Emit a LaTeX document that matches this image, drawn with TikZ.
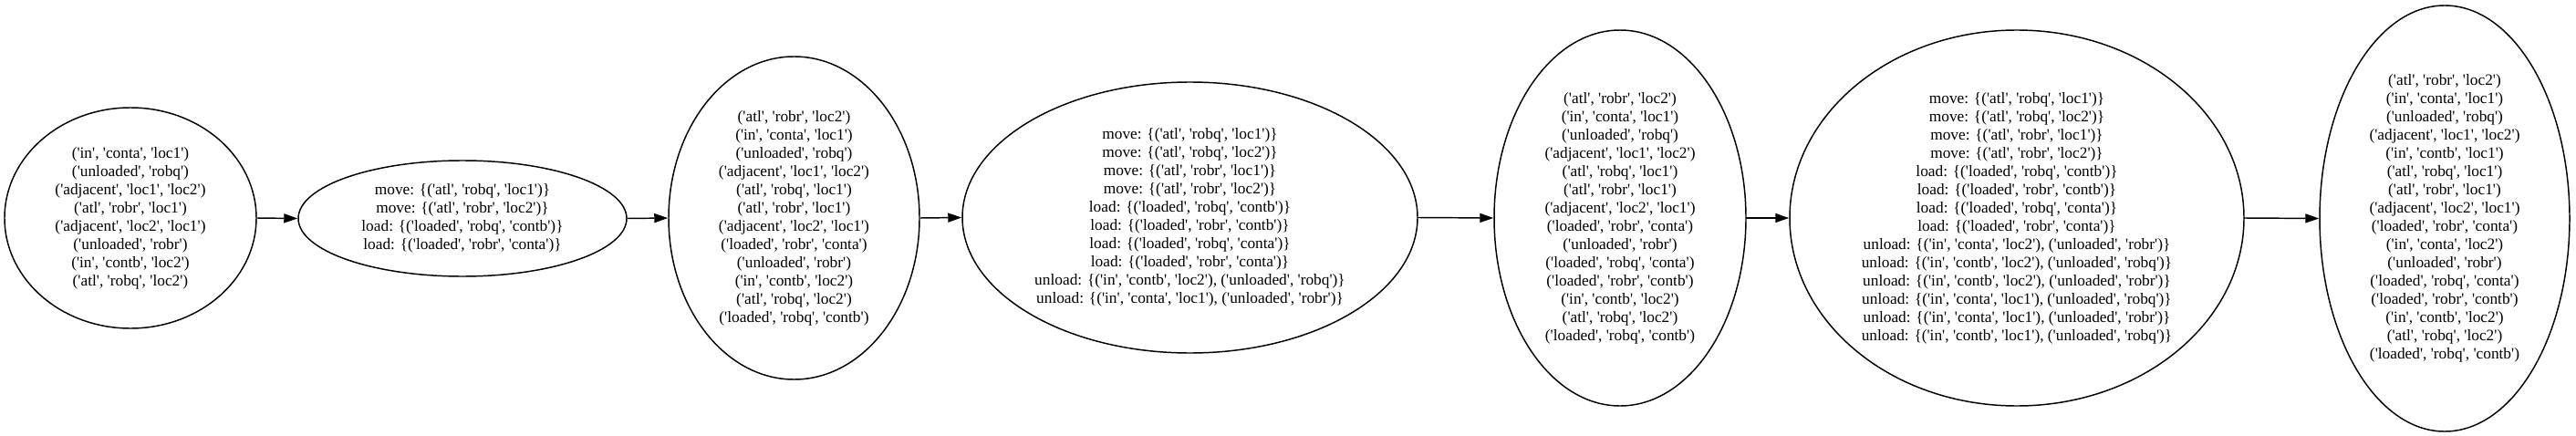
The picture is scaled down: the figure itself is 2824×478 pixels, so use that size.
\documentclass[tikz,border=0pt]{standalone}
\usepackage{fontspec}
\setmainfont{Liberation Serif}[Ligatures=TeXOff]
\usetikzlibrary{shapes.geometric,arrows.meta}
\tikzset{
  state/.style 2 args={ellipse, draw, line width=1.1pt, inner sep=0pt, align=center,
    font=\fontsize{13}{15}\selectfont, minimum width=#1*1.5pt, minimum height=#2*1.5pt},
  arr/.style={line width=1.1pt, -{Triangle[length=11.25pt,width=7.5pt]}}
}
\begin{document}
\begin{tikzpicture}[x=0.75pt,y=-0.75pt]
\useasboundingbox (0,0) rectangle (2824,478);
\node[state={138}{121}] (e1) at (143,239) {('in', 'conta', 'loc1')\\('unloaded', 'robq')\\('adjacent', 'loc1', 'loc2')\\('atl', 'robr', 'loc1')\\('adjacent', 'loc2', 'loc1')\\('unloaded', 'robr')\\('in', 'contb', 'loc2')\\('atl', 'robq', 'loc2')};
\node[state={180}{63.5}] (e2) at (507,239.5) {move: \{('atl', 'robq', 'loc1')\}\\move: \{('atl', 'robr', 'loc2')\}\\load: \{('loaded', 'robq', 'contb')\}\\load: \{('loaded', 'robr', 'conta')\}};
\node[state={137.5}{177}] (e3) at (870.5,239) {('atl', 'robr', 'loc2')\\('in', 'conta', 'loc1')\\('unloaded', 'robq')\\('adjacent', 'loc1', 'loc2')\\('atl', 'robq', 'loc1')\\('atl', 'robr', 'loc1')\\('adjacent', 'loc2', 'loc1')\\('loaded', 'robr', 'conta')\\('unloaded', 'robr')\\('in', 'contb', 'loc2')\\('atl', 'robq', 'loc2')\\('loaded', 'robq', 'contb')};
\node[state={249.5}{148.5}] (e4) at (1304.5,238.5) {move: \{('atl', 'robq', 'loc1')\}\\move: \{('atl', 'robq', 'loc2')\}\\move: \{('atl', 'robr', 'loc1')\}\\move: \{('atl', 'robr', 'loc2')\}\\load: \{('loaded', 'robq', 'contb')\}\\load: \{('loaded', 'robr', 'contb')\}\\load: \{('loaded', 'robq', 'conta')\}\\load: \{('loaded', 'robr', 'conta')\}\\unload: \{('in', 'contb', 'loc2'), ('unloaded', 'robq')\}\\unload: \{('in', 'conta', 'loc1'), ('unloaded', 'robr')\}};
\node[state={138}{206}] (e5) at (1776,239) {('atl', 'robr', 'loc2')\\('in', 'conta', 'loc1')\\('unloaded', 'robq')\\('adjacent', 'loc1', 'loc2')\\('atl', 'robq', 'loc1')\\('atl', 'robr', 'loc1')\\('adjacent', 'loc2', 'loc1')\\('loaded', 'robr', 'conta')\\('unloaded', 'robr')\\('loaded', 'robq', 'conta')\\('loaded', 'robr', 'contb')\\('in', 'contb', 'loc2')\\('atl', 'robq', 'loc2')\\('loaded', 'robq', 'contb')};
\node[state={249}{206}] (e6) at (2211,239) {move: \{('atl', 'robq', 'loc1')\}\\move: \{('atl', 'robq', 'loc2')\}\\move: \{('atl', 'robr', 'loc1')\}\\move: \{('atl', 'robr', 'loc2')\}\\load: \{('loaded', 'robq', 'contb')\}\\load: \{('loaded', 'robr', 'contb')\}\\load: \{('loaded', 'robq', 'conta')\}\\load: \{('loaded', 'robr', 'conta')\}\\unload: \{('in', 'conta', 'loc2'), ('unloaded', 'robr')\}\\unload: \{('in', 'contb', 'loc2'), ('unloaded', 'robq')\}\\unload: \{('in', 'contb', 'loc2'), ('unloaded', 'robr')\}\\unload: \{('in', 'conta', 'loc1'), ('unloaded', 'robq')\}\\unload: \{('in', 'conta', 'loc1'), ('unloaded', 'robr')\}\\unload: \{('in', 'contb', 'loc1'), ('unloaded', 'robq')\}};
\node[state={137}{233.5}] (e7) at (2680,239.5) {('atl', 'robr', 'loc2')\\('in', 'conta', 'loc1')\\('unloaded', 'robq')\\('adjacent', 'loc1', 'loc2')\\('in', 'contb', 'loc1')\\('atl', 'robq', 'loc1')\\('atl', 'robr', 'loc1')\\('adjacent', 'loc2', 'loc1')\\('loaded', 'robr', 'conta')\\('in', 'conta', 'loc2')\\('unloaded', 'robr')\\('loaded', 'robq', 'conta')\\('loaded', 'robr', 'contb')\\('in', 'contb', 'loc2')\\('atl', 'robq', 'loc2')\\('loaded', 'robq', 'contb')};
\draw[arr] (e1.east) -- (e2.west);
\draw[arr] (e2.east) -- (e3.west);
\draw[arr] (e3.east) -- (e4.west);
\draw[arr] (e4.east) -- (e5.west);
\draw[arr] (e5.east) -- (e6.west);
\draw[arr] (e6.east) -- (e7.west);
\end{tikzpicture}
\end{document}
